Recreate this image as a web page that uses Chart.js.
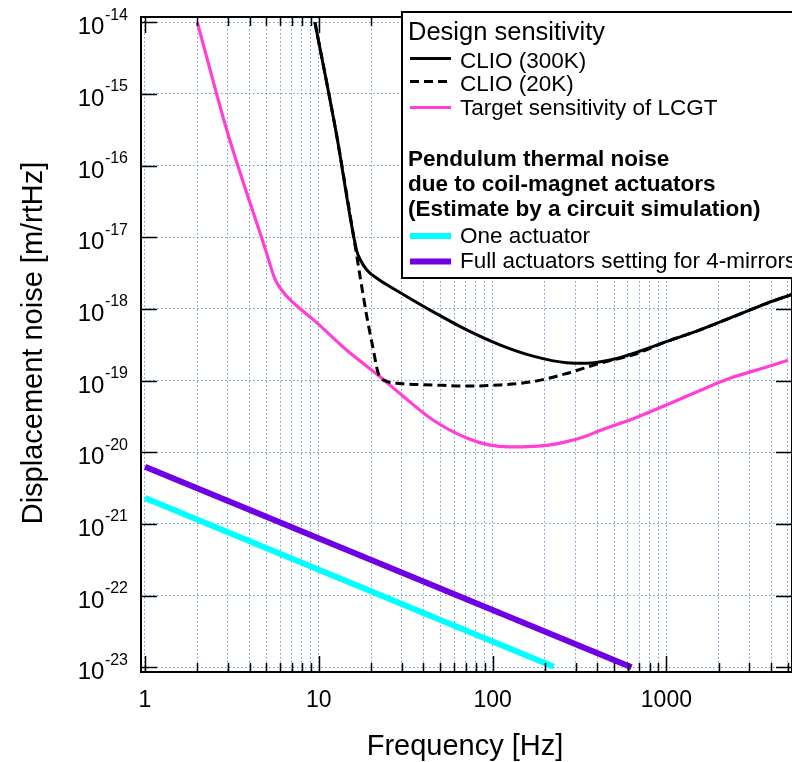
<!DOCTYPE html>
<html><head><meta charset="utf-8">
<script src="https://cdn.jsdelivr.net/npm/chart.js@4"></script>
<style>html,body{margin:0;padding:0;background:#fff;overflow:hidden}</style>
</head><body>
<canvas id="c" width="792" height="762"></canvas>
<script>
// ---- tick definitions ----
const xTickValues = [1,2,3,4,5,6,7,8,9,10,20,30,40,50,60,70,80,90,100,200,300,400,500,600,700,800,900,1000,2000,3000,4000,5000];
const xMajorLabels = ['1','10','100','1000'];
const xMajorValues = [1,10,100,1000];
const yTickValues = [1e-23,1e-22,1e-21,1e-20,1e-19,1e-18,1e-17,1e-16,1e-15,1e-14];
const yExponents = [-23,-22,-21,-20,-19,-18,-17,-16,-15,-14];

// ---- series ----
const clio300Freq  = [9.5, 12.6, 16.5, 17.3, 18.9, 22, 29.3, 45.6, 71, 110, 171, 267, 347, 520, 645, 1000, 1560, 2427, 3780, 5300];
const clio300Noise = [1e-14, 2.85e-16, 6.6e-18, 4.9e-18, 3.5e-18, 2.6e-18, 1.7e-18, 9.1e-19, 5.1e-19, 3.16e-19, 2.2e-19, 1.78e-19, 1.75e-19, 2.04e-19, 2.4e-19, 3.5e-19, 5.1e-19, 7.8e-19, 1.2e-18, 1.6e-18];

const clio20Freq  = [9.5, 12.6, 16.2, 17.3, 18.9, 20.6, 22, 24.6, 29.3, 45.6, 71, 110, 171, 267, 415, 645, 1000, 1560, 2427, 3780, 5300];
const clio20Noise = [1e-14, 2.85e-16, 7.5e-18, 2.8e-18, 7.8e-19, 2.7e-19, 1.26e-19, 9.8e-20, 9.1e-20, 8.7e-20, 8.4e-20, 8.7e-20, 9.7e-20, 1.26e-19, 1.75e-19, 2.3e-19, 3.5e-19, 5.1e-19, 7.8e-19, 1.2e-18, 1.6e-18];

const lcgtFreq  = [2, 2.99, 4.95, 5.6, 6.2, 6.83, 8.0, 9.3, 14.4, 22.5, 29.3, 45.6, 71, 95, 125, 171, 215, 267, 340, 415, 520, 645, 1000, 1560, 2427, 3780, 5010];
const lcgtNoise = [1e-14, 2.85e-16, 6.6e-18, 2.6e-18, 1.75e-18, 1.35e-18, 9.6e-19, 7.1e-19, 2.7e-19, 1.135e-19, 6.6e-20, 2.8e-20, 1.58e-20, 1.27e-20, 1.19e-20, 1.21e-20, 1.27e-20, 1.41e-20, 1.66e-20, 2.02e-20, 2.45e-20, 2.95e-20, 4.57e-20, 7.3e-20, 1.12e-19, 1.55e-19, 1.92e-19];

const oneActFreq  = [1, 225];
const oneActNoise = [2.3e-21, 1.02e-23];

const fullActFreq  = [1, 630];
const fullActNoise = [6.3e-21, 1.0e-23];

const seriesNames = ['CLIO (300K)', 'CLIO (20K)', 'Target sensitivity of LCGT', 'One actuator', 'Full actuators setting for 4-mirrors'];

function pts(fx, fy){ return fx.map((f,i)=>({x:f, y:fy[i]})); }

const FONT = "'Liberation Sans', Arial, Helvetica, sans-serif";
const GRID = 'rgba(90,140,190,0.85)';

const framePlugin = {
  id: 'frame',
  afterDraw(chart){
    const ctx = chart.ctx;
    const {left, right, top, bottom} = chart.chartArea;
    const x = chart.scales.x, y = chart.scales.y;
    ctx.save();
    ctx.strokeStyle = '#000';
    ctx.lineWidth = 1.5;
    xTickValues.forEach(v => {
      const px = Math.round(x.getPixelForValue(v)) + 0.5;
      const major = xMajorValues.includes(v);
      const len = major ? 16 : 9;
      ctx.beginPath();
      ctx.moveTo(px, bottom); ctx.lineTo(px, bottom - len);
      ctx.moveTo(px, top); ctx.lineTo(px, top + len);
      ctx.stroke();
    });
    yTickValues.forEach(v => {
      const py = Math.round(y.getPixelForValue(v)) + 0.5;
      ctx.beginPath();
      ctx.moveTo(left, py); ctx.lineTo(left + 16, py);
      ctx.moveTo(right, py); ctx.lineTo(right - 16, py);
      ctx.stroke();
    });
    ctx.lineWidth = 2;
    ctx.beginPath();
    ctx.moveTo(right, top); ctx.lineTo(left, top); ctx.lineTo(left, bottom); ctx.lineTo(right, bottom); ctx.lineTo(right, top);
    ctx.stroke();

    ctx.fillStyle = '#000';
    yTickValues.forEach((v, i) => {
      const py = y.getPixelForValue(v);
      const sup = String(yExponents[i]);
      ctx.font = '16px ' + FONT;
      ctx.textAlign = 'right';
      ctx.textBaseline = 'alphabetic';
      const w = ctx.measureText(sup).width;
      ctx.fillText(sup, 128, py - 2.5);
      ctx.font = '24px ' + FONT;
      ctx.fillText('10', 128 - w - 0.5, py + 12);
    });
    ctx.font = '23px ' + FONT;
    ctx.textAlign = 'center';
    xMajorValues.forEach((v, i) => {
      ctx.fillText(xMajorLabels[i], x.getPixelForValue(v), 707);
    });
    ctx.font = '29px ' + FONT;
    ctx.fillText('Frequency [Hz]', 465, 755);
    ctx.save();
    ctx.translate(42, 343);
    ctx.rotate(-Math.PI / 2);
    ctx.fillText('Displacement noise [m/rtHz]', 0, 0);
    ctx.restore();

    // legend
    const ds = chart.data.datasets;
    ctx.fillStyle = '#fff';
    ctx.fillRect(402, 12, 400, 266);
    ctx.strokeStyle = '#000';
    ctx.lineWidth = 2;
    ctx.strokeRect(402, 12, 400, 266);
    ctx.fillStyle = '#000';
    ctx.textAlign = 'left';
    ctx.font = '25.5px ' + FONT;
    ctx.fillText('Design sensitivity', 408, 40);
    const entries = [
      {i:0, ly:58.5, ty:68},
      {i:1, ly:81.5, ty:91},
      {i:2, ly:107.5, ty:115},
      {i:3, ly:236, ty:243},
      {i:4, ly:261.5, ty:268}
    ];
    entries.forEach(e => {
      const d = ds[e.i];
      ctx.strokeStyle = d.borderColor;
      ctx.lineWidth = d.borderWidth;
      ctx.setLineDash(d.borderDash || []);
      ctx.beginPath();
      ctx.moveTo(410, e.ly); ctx.lineTo(451, e.ly);
      ctx.stroke();
      ctx.setLineDash([]);
      ctx.font = '22.5px ' + FONT;
      ctx.fillStyle = '#000';
      ctx.fillText(d.label, 460, e.ty);
    });
    ctx.font = 'bold 22.5px ' + FONT;
    ctx.fillText('Pendulum thermal noise', 408, 166);
    ctx.fillText('due to coil-magnet actuators', 408, 191);
    ctx.fillText('(Estimate by a circuit simulation)', 408, 216);
    ctx.restore();
  }
};

new Chart(document.getElementById('c'), {
  type: 'line',
  data: {
    datasets: [
      {label: seriesNames[0], data: pts(clio300Freq, clio300Noise), borderColor: '#000000', borderWidth: 3},
      {label: seriesNames[1], data: pts(clio20Freq, clio20Noise), borderColor: '#000000', borderWidth: 3, borderDash: [9,5]},
      {label: seriesNames[2], data: pts(lcgtFreq, lcgtNoise), borderColor: '#ff3fd8', borderWidth: 3.2},
      {label: seriesNames[3], data: pts(oneActFreq, oneActNoise), borderColor: '#00ffff', borderWidth: 6},
      {label: seriesNames[4], data: pts(fullActFreq, fullActNoise), borderColor: '#7000e4', borderWidth: 6}
    ]
  },
  options: {
    responsive: false,
    animation: false,
    devicePixelRatio: 1,
    layout: {padding: {left: 141, top: 17, right: 0, bottom: 90}},
    elements: {point: {radius: 0}, line: {cubicInterpolationMode: 'monotone', fill: false}},
    plugins: {legend: {display: false}, tooltip: {enabled: false}},
    scales: {
      x: {
        type: 'logarithmic',
        min: 0.9484, max: 5282,
        afterBuildTicks: s => { s.ticks = xTickValues.map(v => ({value: v})); },
        ticks: {display: false},
        grid: {drawTicks: false, color: GRID, lineWidth: 1},
        border: {display: false, dash: [1.5, 2.5]}
      },
      y: {
        type: 'logarithmic',
        min: 8.6e-24, max: 1.186e-14,
        afterBuildTicks: s => { s.ticks = yTickValues.map(v => ({value: v})); },
        ticks: {display: false},
        grid: {drawTicks: false, color: GRID, lineWidth: 1},
        border: {display: false, dash: [1.5, 2.5]}
      }
    }
  },
  plugins: [framePlugin]
});
</script>
</body></html>
